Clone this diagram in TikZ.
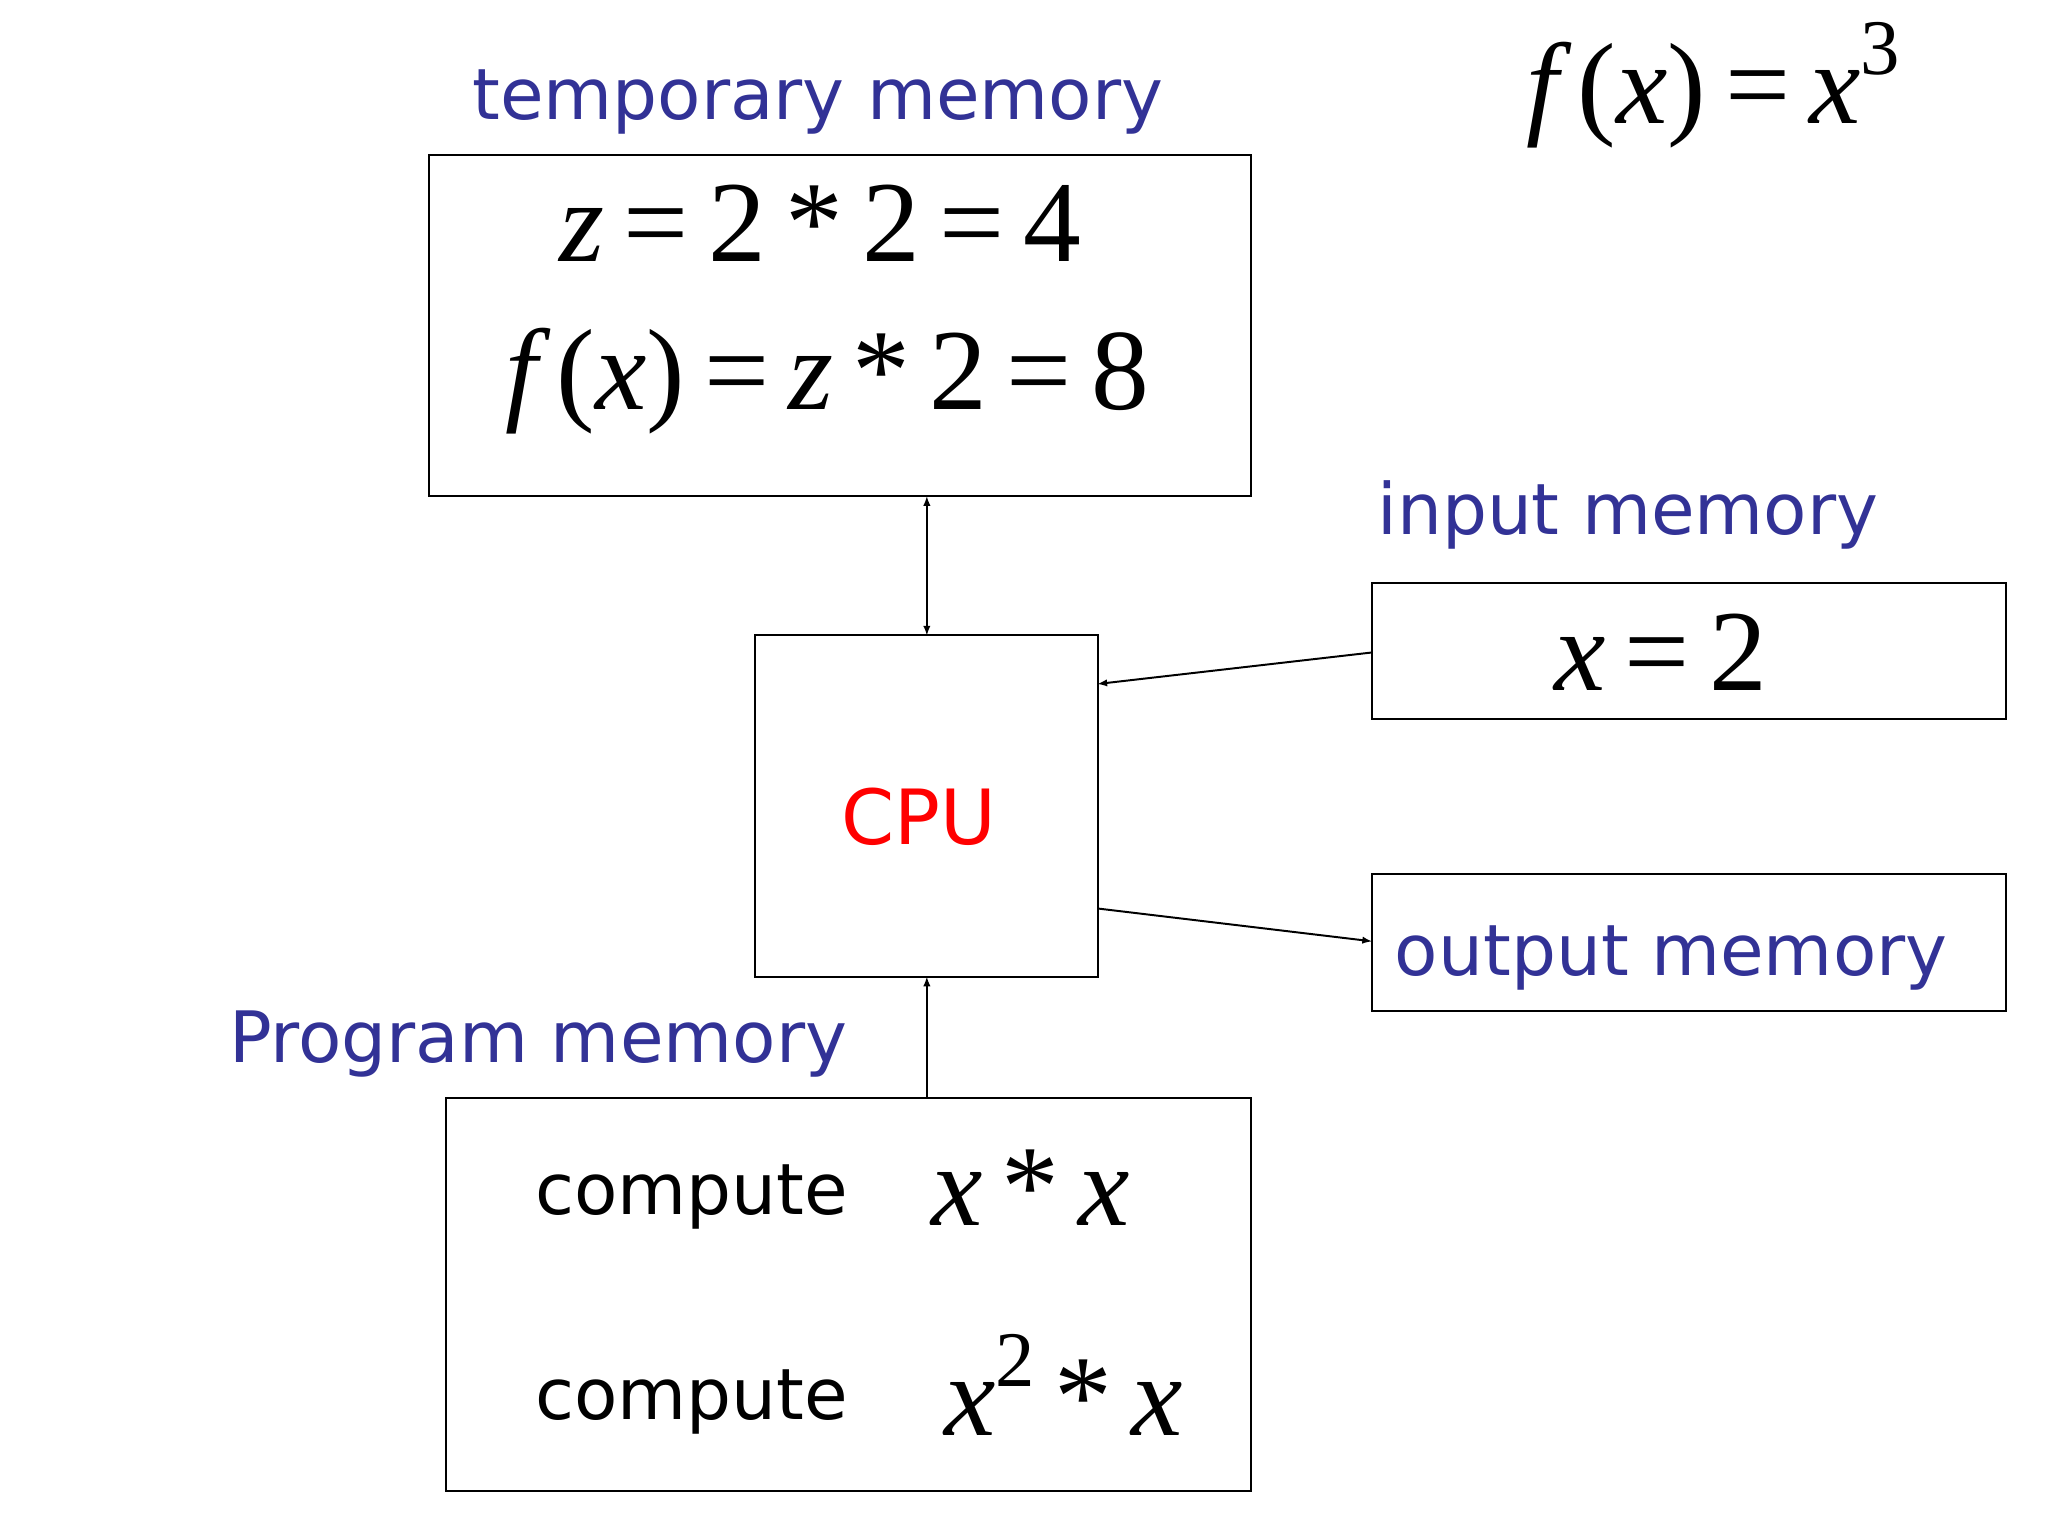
\documentclass[tikz,border=0pt]{standalone}
\usepackage{fontspec}
\setmainfont{DejaVu Sans}
\newfontfamily\tms{Liberation Serif}
\newcommand{\mi}[1]{{\itshape #1}}
\newcommand{\eq}{\,=\,}
\newcommand{\sups}[1]{\raisebox{0.42em}{\fontsize{60}{66}\selectfont #1}}
\begin{document}
\begin{tikzpicture}[x=1pt,y=-1pt,
 box/.style={draw,line width=1.5pt},
 lab/.style={text=navy,font=\fontsize{54}{60}\selectfont},
 mth/.style={font=\tms\fontsize{88}{96}\selectfont},
 cmp/.style={font=\fontsize{54}{60}\selectfont},
 arr/.style={line width=1.5pt,-latex}]
\definecolor{navy}{RGB}{50,50,150}
\useasboundingbox (0,0) rectangle (1560,1170);
\node[box,minimum width=626,minimum height=260] (tmp) at (640,248) {};
\node[lab] (tl) at (623,78) {temporary memory};
\node[mth] (l1) at (625,170) {\mi{z}\eq2\,*\,2\eq4};
\node[mth] (l2) at (630,290) {\mi{f}\,(\mi{x})\eq\mi{z}\,*\,2\eq8};
\node[mth] (fx) at (1305,65) {\mi{f}\,(\mi{x})\eq\mi{x}\sups{3}};
\node[box,minimum width=261,minimum height=260] (cpu) at (705.5,614) {};
\node[text=red,font=\fontsize{58}{66}\selectfont] (ct) at (700,622) {CPU};
\node[lab] (il) at (1240,392) {input memory};
\node[box,minimum width=483,minimum height=104] (in) at (1286.5,496) {};
\node[mth] (x2) at (1265,497) {\mi{x}\eq2};
\node[box,minimum width=483,minimum height=104] (out) at (1286.5,718) {};
\node[lab] (ol) at (1273,730) {output memory};
\node[lab] (pl) at (410,795) {Program memory};
\node[box,minimum width=613,minimum height=300] (prg) at (646.5,986) {};
\node[cmp] (c1) at (527,912) {compute};
\node[mth] (m1) at (785,905) {\mi{x}\,*\,\mi{x}};
\node[cmp] (c2) at (527,1068) {compute};
\node[mth] (m2) at (810,1055) {\mi{x}\sups{2}\,*\,\mi{x}};
\coordinate (a1) at (706,378); \coordinate (a2) at (706,484);
\draw[arr,latex-latex] (a1) -- (a2);
\coordinate (b1) at (1045,497); \coordinate (b2) at (836,521);
\draw[arr] (b1) -- (b2);
\coordinate (c1p) at (836,692); \coordinate (c2p) at (1045,717);
\draw[arr] (c1p) -- (c2p);
\coordinate (d1) at (706,836); \coordinate (d2) at (706,744);
\draw[arr] (d1) -- (d2);
\end{tikzpicture}
\end{document}
